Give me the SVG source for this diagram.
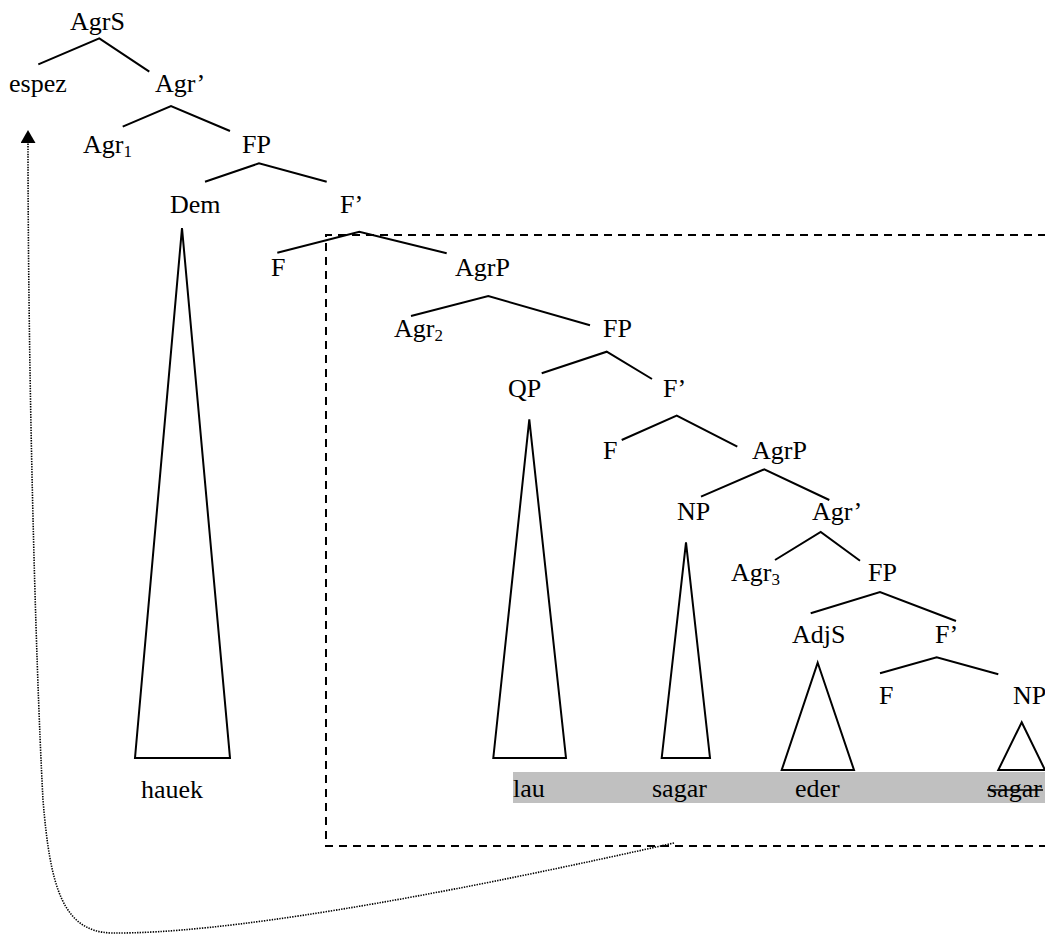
<svg xmlns="http://www.w3.org/2000/svg" width="1045" height="936" viewBox="0 0 1045 936">
  <style>
    .lbl text { font-family: "Liberation Serif", "Times New Roman", "DejaVu Serif", serif; font-size: 26px; fill: #000; }
    .sub { font-size: 17px; }
    .branch { fill: none; stroke: #000; stroke-width: 2; stroke-linejoin: miter; }
    .tri { fill: none; stroke: #000; stroke-width: 2; stroke-linejoin: miter; }
    .box { fill: none; stroke: #000; stroke-width: 2; stroke-dasharray: 8 6; }
    .move { fill: none; stroke: #000; stroke-width: 1.6; stroke-dasharray: 1.4 1.2; }
  </style>
  <defs>
    <marker id="arrow" viewBox="0 0 13 15" refX="0" refY="7.5" markerWidth="13" markerHeight="15" markerUnits="userSpaceOnUse" orient="auto">
      <path d="M0,0 L13,7.5 L0,15 Z" fill="#000"/>
    </marker>
  </defs>

  <!-- shaded band under the copied string -->
  <rect id="string-band" x="513" y="772" width="532" height="31" fill="#c0c0c0"/>

  <g id="connectors">
    <!-- tree branches -->
    <polyline class="branch" points="38.3,64.3 99.3,38.3 149.3,71.7"/>
    <polyline class="branch" points="122.7,126.7 171,106 230,131"/>
    <polyline class="branch" points="205,181.7 259,163.3 326.7,181.7"/>
    <polyline class="branch" points="277.3,252.7 359.3,231.7 446.7,253.3"/>
    <polyline class="branch" points="411,316 488.3,296 590,325.3"/>
    <polyline class="branch" points="541.7,373.3 606.7,351.7 652,379"/>
    <polyline class="branch" points="621.7,440 676.7,415.7 737.3,446.7"/>
    <polyline class="branch" points="701,496.7 764.3,469.3 829.3,500"/>
    <polyline class="branch" points="775,560 820.7,532 860,560.7"/>
    <polyline class="branch" points="810.7,613.3 880,592 956,621"/>
    <polyline class="branch" points="880,673.3 936.7,657.3 998.3,674.3"/>

    <!-- collapsed subtrees -->
    <polygon class="tri" points="182,228 230,758 135,758"/>
    <polygon class="tri" points="529.3,419.3 566,758 493.3,758"/>
    <polygon class="tri" points="686,542.3 710,758 661.7,758"/>
    <polygon class="tri" points="817.7,662.7 854,770 781.7,770"/>
    <polygon class="tri" points="1021.7,722.3 1045,770 998.3,770"/>

    <!-- moved constituent and its path -->
    <path id="domain-box" class="box" d="M1046,235 H326 V846 H1046"/>
    <path id="movement" class="move" d="M674,843 C420,900 220,934 112,933 C62,932 50,885 43,800 C35,650 28,360 28,143" marker-end="url(#arrow)"/>
  </g>

  <g class="lbl" font-family="Liberation Serif, Times New Roman, serif">
    <g id="n-AgrS"><text x="70" y="30">AgrS</text></g>
    <g id="n-espez"><text x="9" y="92">espez</text></g>
    <g id="n-AgrBar1"><text x="155" y="92">Agr’</text></g>
    <g id="n-Agr1"><text x="83" y="153">Agr<tspan class="sub" dy="4">1</tspan></text></g>
    <g id="n-FP1"><text x="242" y="153">FP</text></g>
    <g id="n-Dem"><text x="170" y="213">Dem</text></g>
    <g id="n-FBar1"><text x="340" y="213">F’</text></g>
    <g id="n-F1"><text x="271" y="276">F</text></g>
    <g id="n-AgrP1"><text x="455" y="276">AgrP</text></g>
    <g id="n-Agr2"><text x="394" y="337">Agr<tspan class="sub" dy="4">2</tspan></text></g>
    <g id="n-FP2"><text x="603" y="337">FP</text></g>
    <g id="n-QP"><text x="508" y="397">QP</text></g>
    <g id="n-FBar2"><text x="663" y="397">F’</text></g>
    <g id="n-F2"><text x="603" y="459">F</text></g>
    <g id="n-AgrP2"><text x="752" y="459">AgrP</text></g>
    <g id="n-NP1"><text x="677" y="520">NP</text></g>
    <g id="n-AgrBar2"><text x="812" y="520">Agr’</text></g>
    <g id="n-Agr3"><text x="731" y="581">Agr<tspan class="sub" dy="4">3</tspan></text></g>
    <g id="n-FP3"><text x="868" y="581">FP</text></g>
    <g id="n-AdjS"><text x="792" y="643">AdjS</text></g>
    <g id="n-FBar3"><text x="935" y="643">F’</text></g>
    <g id="n-F3"><text x="879" y="704">F</text></g>
    <g id="n-NP2"><text x="1013" y="704">NP</text></g>

    <g id="w-hauek"><text x="141" y="798">hauek</text></g>
    <g id="w-lau"><text x="513" y="797">lau</text></g>
    <g id="w-sagar"><text x="652" y="797">sagar</text></g>
    <g id="w-eder"><text x="795" y="797">eder</text></g>
    <g id="w-sagar-copy"><text x="987" y="797">sagar</text><line x1="987" y1="790" x2="1043" y2="790" stroke="#000" stroke-width="1.5"/></g>
  </g>
</svg>
